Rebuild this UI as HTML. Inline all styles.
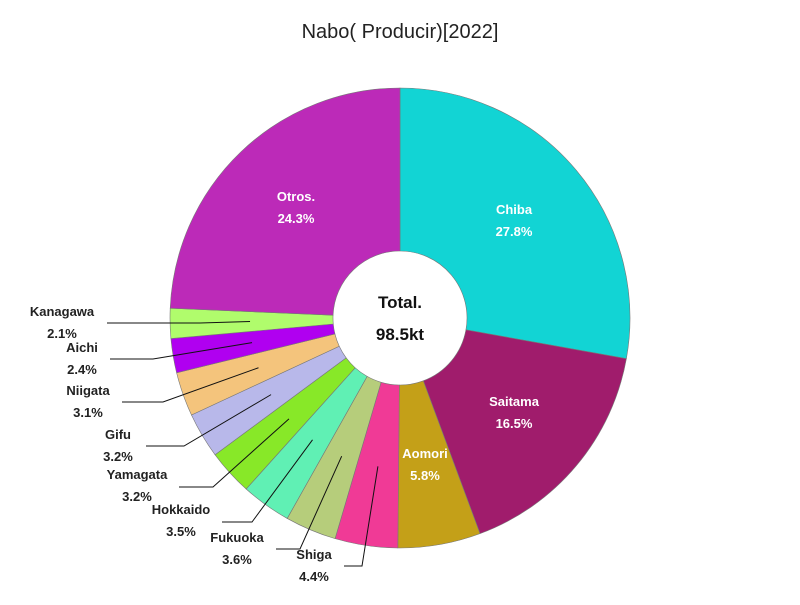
<!DOCTYPE html>
<html><head><meta charset="utf-8"><style>
body{margin:0;background:#fff;width:800px;height:600px;overflow:hidden;font-family:"Liberation Sans",sans-serif}
</style></head><body>
<svg id="chart" width="800" height="600">
<text x="400" y="38" text-anchor="middle" font-size="20" fill="#222">Nabo( Producir)[2022]</text>
<g id="slices"></g><g id="labels"></g>
<text x="400" y="308" text-anchor="middle" font-size="17" font-weight="bold" fill="#111">Total.</text>
<text x="400" y="340" text-anchor="middle" font-size="17" font-weight="bold" fill="#111">98.5kt</text>
</svg>
<script>
const categories=["Chiba","Saitama","Aomori","Shiga","Fukuoka","Hokkaido","Yamagata","Gifu","Niigata","Aichi","Kanagawa","Otros."];
const values=[27.8,16.5,5.8,4.4,3.6,3.5,3.2,3.2,3.1,2.4,2.1,24.3];
const colors=["#12d4d4","#a01c6c","#c4a018","#f03a96","#b6cd7b","#60f0b4","#88e828","#b8b8ea","#f4c47c","#b000f0","#b0fc6c","#bc2ab8"];
// layout for outside labels: [elbowX, elbowY, lineEndX, textX, textY]
const outside={3:[362,566,344,314,554],4:[300,549,276,237,537],5:[252,522,222,181,509],6:[213,487,179,137,474],7:[184,446,146,118,434],8:[163,402,122,88,390],9:[153,359,110,82,347],10:[200,323,107,62,311]};
const inside={0:[514,209],1:[514,401],2:[425,453],11:[296,196]};
const cx=400,cy=318,R=230,r0=67,ns="http://www.w3.org/2000/svg";
const total=values.reduce((a,b)=>a+b,0);
const sg=document.getElementById('slices'),lg=document.getElementById('labels');
function pt(a,rad){return [cx+rad*Math.sin(a),cy-rad*Math.cos(a)];}
let acc=0;
values.forEach((v,i)=>{
 const a0=acc/total*2*Math.PI;acc+=v;const a1=acc/total*2*Math.PI;
 const big=(a1-a0)>Math.PI?1:0;
 const p0=pt(a0,R),p1=pt(a1,R),q1=pt(a1,r0),q0=pt(a0,r0);
 const p=document.createElementNS(ns,'path');
 p.setAttribute('d',`M${p0}A${R},${R} 0 ${big} 1 ${p1}L${q1}A${r0},${r0} 0 ${big} 0 ${q0}Z`);
 p.setAttribute('fill',colors[i]);p.setAttribute('stroke','#777');p.setAttribute('stroke-width','0.6');
 
 
 sg.appendChild(p);
 const pct=(v/total*100).toFixed(1)+'%';
 const am=(a0+a1)/2;
 let tx,ty,fill='#222';
 if(inside[i]){[tx,ty]=inside[i];fill='#fff';}
 else{
  const o=outside[i];const an=pt(am,150);
  const l=document.createElementNS(ns,'polyline');
  l.setAttribute('points',`${an} ${o[0]},${o[1]} ${o[2]},${o[1]}`);
  l.setAttribute('fill','none');l.setAttribute('stroke','#111');l.setAttribute('stroke-width','1');
  
  
  lg.appendChild(l);tx=o[3];ty=o[4];
 }
 [[categories[i],ty],[pct,ty+22]].forEach(([s,y],k)=>{
  const t=document.createElementNS(ns,'text');
  t.setAttribute('x',tx);t.setAttribute('y',y+5);t.setAttribute('text-anchor','middle');
  t.setAttribute('font-size','13');t.setAttribute('font-weight','bold');t.setAttribute('fill',fill);
  t.textContent=s;
  
  
  lg.appendChild(t);
 });
});
</script>
</body></html>
